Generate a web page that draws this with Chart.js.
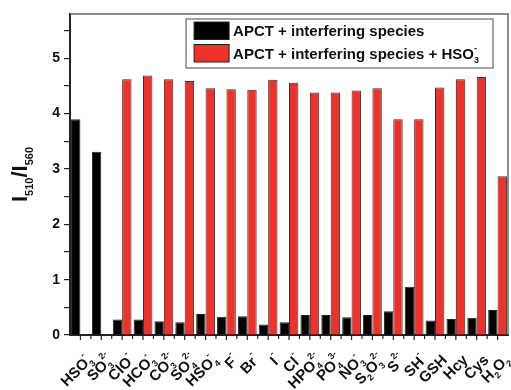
<!DOCTYPE html>
<html><head><meta charset="utf-8">
<script src="https://cdn.jsdelivr.net/npm/chart.js@4/dist/chart.umd.min.js"></script>
<style>html,body{margin:0;padding:0;background:#fff}#wrap{width:511px;height:390px;position:relative}</style>
</head><body><div id="wrap"><canvas id="c"></canvas></div>
<script>
// ---- data ----
const categories = ['HSO_3^-','SO_3^{2-}','ClO^-','HCO_3^-','CO_3^{2-}','SO_4^{2-}','HSO_4^-','F^-','Br^-','I^-','Cl^-','HPO_4^{2-}','PO_4^{3-}','NO_3^-','S_2O_3^{2-}','S^{2-}','SH^-','GSH','Hcy','Cys','H_2O_2'];
const seriesNames = ['APCT + interfering species','APCT + interfering species + HSO_3^-'];
const withoutHSO3 = [3.90,3.31,0.28,0.28,0.25,0.23,0.38,0.33,0.34,0.19,0.23,0.36,0.36,0.32,0.36,0.43,0.87,0.26,0.29,0.31,0.45];
const withHSO3 = [null,null,4.62,4.69,4.62,4.59,4.46,4.44,4.43,4.61,4.56,4.38,4.38,4.42,4.46,3.90,3.90,4.47,4.62,4.66,2.87];
const yTickLabels = [0,1,2,3,4,5];
const yTitle = 'I_{510}/I_{560}';

const FAM = '"Liberation Sans", Arial, sans-serif';

function parseRich(s){
  const segs=[]; let i=0;
  while(i<s.length){
    const c=s[i];
    if(c==='_'||c==='^'){
      let t;
      if(s[i+1]==='{'){const j=s.indexOf('}',i); t=s.slice(i+2,j); i=j+1;}
      else {t=s[i+1]; i+=2;}
      segs.push({t, k: c==='_'?'sub':'sup'});
    } else {
      let j=i; while(j<s.length && s[j]!=='_' && s[j]!=='^') j++;
      segs.push({t:s.slice(i,j),k:'n'}); i=j;
    }
  }
  return segs;
}
function layoutRich(ctx, str, size, ratio){
  const segs=parseRich(str);
  let x=0, subStart=0; const items=[];
  segs.forEach((sg,idx)=>{
    const fs = sg.k==='n'?size:Math.round(size*ratio);
    ctx.font = `bold ${fs}px ${FAM}`;
    const w = ctx.measureText(sg.t).width;
    let sx = x;
    if(sg.k==='sup' && idx>0 && segs[idx-1].k==='sub'){ sx = subStart; }
    if(sg.k==='sub') subStart = sx;
    items.push({t:sg.t,k:sg.k,x:sx,fs,w});
    x = Math.max(x, sx+w);
  });
  return {items, width:x};
}
function drawRich(ctx, lay, x0, y0, size, supK){
  ctx.textAlign='left'; ctx.textBaseline='alphabetic';
  for(const it of lay.items){
    ctx.font = `bold ${it.fs}px ${FAM}`;
    const dy = it.k==='sub'? size*0.28 : it.k==='sup' ? -size*(supK||0.5) : 0;
    ctx.fillText(it.t, x0+it.x, y0+dy);
  }
}

const decor = {
  id:'decor',
  afterDraw(chart){
    const ctx=chart.ctx, a=chart.chartArea, xs=chart.scales.x;
    ctx.save();
    // frame top/right
    ctx.strokeStyle='#666'; ctx.lineWidth=1.5;
    ctx.beginPath(); ctx.moveTo(a.left,a.top); ctx.lineTo(a.right,a.top); ctx.lineTo(a.right,a.bottom); ctx.stroke();
    // x ticks: major at centers, minor at boundaries
    ctx.strokeStyle='#222'; ctx.lineWidth=1.2;
    const n=categories.length;
    for(let i=0;i<n;i++){
      const px=xs.getPixelForTick(i);
      ctx.beginPath(); ctx.moveTo(px,a.bottom); ctx.lineTo(px,a.bottom+5); ctx.stroke();
      const nx = i<n-1 ? xs.getPixelForTick(i+1) : px + (px - xs.getPixelForTick(i-1));
      const mx=(px+nx)/2;
      if(mx<a.right-1){ctx.beginPath(); ctx.moveTo(mx,a.bottom); ctx.lineTo(mx,a.bottom+4); ctx.stroke();}
    }
    // x labels
    ctx.fillStyle='#111';
    const LS=15;
    categories.forEach((c,i)=>{
      const px=xs.getPixelForTick(i);
      const lay=layoutRich(ctx,c,LS,0.62);
      ctx.save();
      ctx.translate(px+9, a.bottom+22);
      ctx.rotate(-Math.PI/4);
      drawRich(ctx,lay,-lay.width,LS*0.36,LS,0.6);
      ctx.restore();
    });
    // y title
    const TS=22;
    const tl=layoutRich(ctx,yTitle,TS,0.52);
    ctx.save();
    ctx.translate(27, (a.top+a.bottom)/2);
    ctx.rotate(-Math.PI/2);
    drawRich(ctx,tl,-tl.width/2,0,TS);
    ctx.restore();
    // legend
    const FS=15;
    const ds=chart.data.datasets;
    const lays=ds.map(d=>layoutRich(ctx,d.label,FS,0.6));
    const maxW=Math.max(...lays.map(l=>l.width));
    const sw=35, sh=17.5, pad=8, gap=4, rowH=22.5;
    const bw=pad+sw+gap+maxW+14, bh=rowH*ds.length+4;
    const bx=a.right-15-bw, by=a.top+5;
    ctx.fillStyle='#fff'; ctx.fillRect(bx,by,bw,bh);
    ctx.strokeStyle='#666'; ctx.lineWidth=1.2; ctx.strokeRect(bx,by,bw,bh);
    ds.forEach((d,i)=>{
      const ry=by+3+i*rowH;
      ctx.fillStyle=d.backgroundColor; ctx.fillRect(bx+pad,ry,sw,sh);
      ctx.strokeStyle='#222'; ctx.lineWidth=1; ctx.strokeRect(bx+pad,ry,sw,sh);
      ctx.fillStyle='#111';
      drawRich(ctx,lays[i],bx+pad+sw+gap,ry+sh/2+FS*0.36,FS);
    });
    ctx.restore();
  }
};

new Chart(document.getElementById('c'),{
  type:'bar',
  data:{
    labels:categories,
    datasets:[
      {label:seriesNames[0],data:withoutHSO3,backgroundColor:'#000000',borderColor:'#222',borderWidth:1,barPercentage:1,categoryPercentage:0.9},
      {label:seriesNames[1],data:withHSO3,backgroundColor:'#EE3129',borderColor:'#333',borderWidth:1,barPercentage:1,categoryPercentage:0.9}
    ]
  },
  options:{
    responsive:true, maintainAspectRatio:false, animation:false,
    layout:{padding:{top:14,right:3,left:0,bottom:0}},
    plugins:{legend:{display:false},tooltip:{enabled:false}},
    scales:{
      x:{
        grid:{display:false},
        border:{display:true,color:'#222',width:2},
        ticks:{display:false},
        afterFit(s){s.height=55;}
      },
      y:{
        min:0,max:5.8,
        grid:{drawOnChartArea:false,color:'#222',lineWidth:1.2,tickLength:6},
        border:{display:true,color:'#222',width:2},
        ticks:{stepSize:0.5,includeBounds:false,padding:4,color:'#111',font:{family:FAM,size:14,weight:'bold'},
          callback:v=>yTickLabels.includes(v)?String(v):''},
        afterFit(s){s.width=70;}
      }
    }
  },
  plugins:[decor]
});
</script></body></html>
